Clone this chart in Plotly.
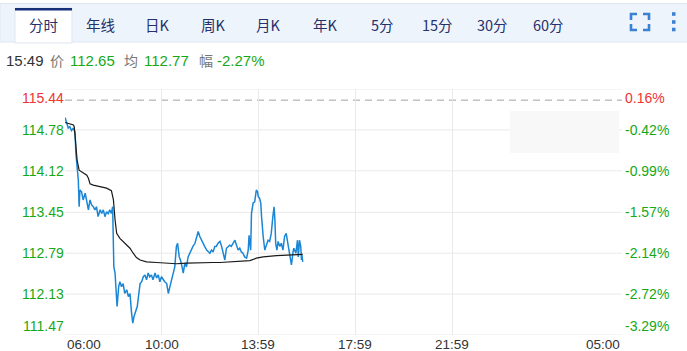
import plotly.graph_objects as go

# ---------------- data ----------------
DAY = "2024-01-02"
NEXT_DAY = "2024-01-03"

price_times = ["06:00","06:08","06:12","06:16","06:21","06:25","06:27","06:30","06:33","06:35",
               "06:37","06:41","06:45","06:50","06:54","06:58","07:02","07:06","07:10","07:14",
               "07:18","07:22","07:27","07:31","07:35","07:39","07:43","07:47","07:51","07:55",
               "07:58","08:00","08:01","08:04","08:06","08:09","08:13","08:16","08:20","08:24",
               "08:28","08:33","08:37","08:41","08:45","08:48","08:51","08:55","08:59","09:03",
               "09:06","09:10","09:14","09:18","09:22","09:26","09:30","09:34","09:38","09:43",
               "09:47","09:51","09:55","09:59","10:03","10:07","10:12","10:16","10:20","10:24",
               "10:28","10:32","10:36","10:39","10:43","10:46","10:50","10:53","10:57","11:01",
               "11:05","11:09","11:13","11:17","11:22","11:26","11:30","11:34","11:38","11:42",
               "11:46","11:51","11:55","11:59","12:03","12:07","12:11","12:15","12:19","12:24",
               "12:28","12:32","12:36","12:40","12:44","12:48","12:52","12:56","13:01","13:05",
               "13:09","13:13","13:17","13:21","13:25","13:30","13:34","13:36","13:38","13:40",
               "13:42","13:46","13:50","13:54","13:57","13:59","14:02","14:05","14:07","14:09",
               "14:11","14:15","14:19","14:23","14:27","14:31","14:35","14:38","14:40","14:42",
               "14:45","14:48","14:52","14:56","15:00","15:04","15:08","15:11","15:15","15:18",
               "15:21","15:25","15:27","15:32","15:36","15:38","15:41","15:44","15:46","15:47",
               "15:49"]
price_values = [114.98,114.81,114.83,114.77,114.81,114.73,114.40,114.11,113.97,113.54,
                113.81,113.78,113.65,113.76,113.60,113.49,113.65,113.57,113.54,113.49,
                113.54,113.38,113.49,113.43,113.49,113.38,113.46,113.43,113.49,113.43,
                113.54,113.11,112.57,112.47,112.30,111.93,112.25,112.33,112.25,112.30,
                112.14,112.20,112.09,112.14,111.82,111.66,111.77,111.87,111.93,112.14,
                112.30,112.33,112.41,112.44,112.36,112.47,112.41,112.44,112.36,112.47,
                112.39,112.44,112.33,112.41,112.36,112.33,112.30,112.14,112.25,112.36,
                112.47,112.57,112.90,112.95,112.73,112.68,112.57,112.47,112.63,112.57,
                112.73,112.79,112.84,112.90,112.95,113.06,113.14,113.06,113.00,112.95,
                112.90,112.84,112.81,112.79,112.84,112.81,112.90,112.90,112.95,112.98,
                112.90,112.79,112.68,112.87,112.90,112.92,112.90,112.95,113.00,112.92,
                112.84,112.87,112.81,112.79,112.73,112.71,112.84,113.08,112.98,112.84,
                113.43,113.60,113.62,113.81,113.78,113.70,113.68,113.60,113.38,113.16,
                113.06,112.84,112.92,113.00,112.98,113.11,113.38,113.54,113.33,112.95,
                112.84,112.98,112.90,112.95,112.84,113.06,113.11,112.98,112.84,112.73,
                112.60,112.81,112.87,112.79,113.00,112.73,113.00,112.90,112.68,112.76,
                112.65]

avg_times = ["06:00","06:21","06:23","06:27","06:30","06:35","06:45","06:54","06:58","07:02",
             "07:10","07:27","07:43","07:55","08:00","08:04","08:08","08:16","08:24","08:33",
             "08:41","08:49","08:57","09:06","09:22","09:47","10:12","10:36","11:01","11:34",
             "12:07","12:24","13:38","13:54","14:11","14:44","15:17","15:49"]
avg_values = [114.90,114.86,114.83,114.46,114.29,114.13,114.09,114.05,114.00,113.91,
              113.89,113.86,113.84,113.80,113.65,113.33,113.11,113.03,112.98,112.92,
              112.87,112.79,112.72,112.68,112.65,112.64,112.63,112.62,112.63,112.64,
              112.64,112.64,112.67,112.71,112.73,112.75,112.76,112.77]

y_ticks = [115.44, 114.78, 114.12, 113.45, 112.79, 112.13, 111.47]
pct_ticks = ["0.16%", "-0.42%", "-0.99%", "-1.57%", "-2.14%", "-2.72%", "-3.29%"]
prev_close = 115.26

x_tick_labels = ["06:00", "10:00", "13:59", "17:59", "21:59", "05:00"]
x_tick_dates = [DAY, DAY, DAY, DAY, DAY, NEXT_DAY]

tabs = ["分时", "年线", "日K", "周K", "月K", "年K", "5分", "15分", "30分", "60分"]
info_time = "15:49"
info_price = "112.65"
info_avg = "112.77"
info_change = "-2.27%"

# ---------------- styling ----------------
W, H = 687, 351
L, R, T, B = 65, 622, 89, 335
RED = "#ee3434"
GREEN = "#17a817"
BLUE = "#1a86d5"
GRID = "#e9e9e9"
NUM_FONT = "Liberation Sans, Arial, Noto Sans CJK SC, sans-serif"
CJK_FONT = "Noto Sans CJK SC, Liberation Sans, sans-serif"


def px(x):
    return (x - L) / (R - L)


def py(y):
    return (B - y) / (B - T)


px_times = [DAY + " " + t for t in price_times]
av_times = [DAY + " " + t for t in avg_times]

fig = go.Figure()
fig.add_trace(go.Scatter(x=px_times, y=price_values, mode="lines",
                         line=dict(color=BLUE, width=1.5), hoverinfo="skip"))
fig.add_trace(go.Scatter(x=av_times, y=avg_values, mode="lines",
                         line=dict(color="#1a1a1a", width=1.2), hoverinfo="skip"))

shapes = []
annotations = []

# header bar
shapes.append(dict(type="rect", xref="paper", yref="paper", x0=px(0), x1=px(W + 2),
                   y0=py(42), y1=py(3.5), fillcolor="#eef4fc",
                   line=dict(color="#dfe6f0", width=1), layer="below"))
# active tab
shapes.append(dict(type="rect", xref="paper", yref="paper", x0=px(15), x1=px(72),
                   y0=py(43), y1=py(8), fillcolor="#ffffff",
                   line=dict(color="#dfe6f0", width=1), layer="below"))
shapes.append(dict(type="rect", xref="paper", yref="paper", x0=px(15), x1=px(72),
                   y0=py(10.5), y1=py(8), fillcolor="#16307a",
                   line=dict(width=0), layer="below"))

tab_centers = [43, 100, 157, 213, 268, 325, 382, 437, 492, 548]
for t, cx in zip(tabs, tab_centers):
    annotations.append(dict(text=t, xref="paper", yref="paper", x=px(cx), y=py(25),
                            xanchor="center", yanchor="middle", showarrow=False,
                            font=dict(family=CJK_FONT, size=14.5, color="#26306a")))

# fullscreen icon (corner brackets)
ICON = "#3a80d4"
a = 6
for (cx, cy, dx, dy) in [(631, 14, 1, 1), (649, 14, -1, 1), (631, 30, 1, -1), (649, 30, -1, -1)]:
    path = "M {},{} L {},{} L {},{}".format(px(cx + dx * a), py(cy), px(cx), py(cy), px(cx), py(cy + dy * a))
    shapes.append(dict(type="path", xref="paper", yref="paper", path=path,
                       line=dict(color=ICON, width=2.6)))
# dots icon
for cy in [14, 22, 29.5]:
    shapes.append(dict(type="rect", xref="paper", yref="paper", x0=px(672), x1=px(675.5),
                       y0=py(cy + 1.8), y1=py(cy - 1.8), fillcolor=ICON, line=dict(width=0)))

# info line
info_items = [(4, info_time, "#333333", NUM_FONT, 15),
              (47.5, "价", "#777777", CJK_FONT, 14),
              (67.5, info_price, GREEN, NUM_FONT, 15),
              (121.5, "均", "#777777", CJK_FONT, 14),
              (142, info_avg, GREEN, NUM_FONT, 15),
              (196.5, "幅", "#777777", CJK_FONT, 14),
              (214.5, info_change, GREEN, NUM_FONT, 15)]
for xl, txt, col, fam, sz in info_items:
    annotations.append(dict(text=txt, xref="paper", yref="paper", x=px(xl), y=py(60.5),
                            xanchor="left", yanchor="middle", showarrow=False,
                            font=dict(family=fam, size=sz, color=col)))

# horizontal grid lines
for v in y_ticks:
    shapes.append(dict(type="line", xref="paper", yref="y", x0=0, x1=1, y0=v, y1=v,
                       line=dict(color=GRID, width=1), layer="below"))
# previous close dashed
shapes.append(dict(type="line", xref="paper", yref="y", x0=0, x1=1, y0=prev_close, y1=prev_close,
                   line=dict(color="#a0a0a0", width=1, dash="7px,5px"), layer="below"))

# blurred box (watermark) – sits over the grid
shapes.append(dict(type="rect", xref="paper", yref="paper", x0=px(510), x1=px(619),
                   y0=py(153), y1=py(111), fillcolor="#f8f8f8", line=dict(width=0),
                   layer="above"))

# y labels
n = len(y_ticks)
for i, (v, p) in enumerate(zip(y_ticks, pct_ticks)):
    col = RED if v > prev_close else GREEN
    if i == 0:
        ya, ys = "top", 1
    elif i == n - 1:
        ya, ys = "bottom", -1
    else:
        ya, ys = "middle", 0
    annotations.append(dict(text=f"{v:.2f}", xref="paper", yref="y", x=0, y=v,
                            xanchor="right", yanchor=ya, yshift=ys, xshift=1, showarrow=False,
                            font=dict(family=NUM_FONT, size=14, color=col)))
    annotations.append(dict(text=p, xref="paper", yref="y", x=1, y=v,
                            xanchor="left", yanchor=ya, yshift=ys, xshift=1, showarrow=False,
                            font=dict(family=NUM_FONT, size=14, color=col)))

# x labels
x_full = [d + " " + t for d, t in zip(x_tick_dates, x_tick_labels)]
for i, (xv, lab) in enumerate(zip(x_full, x_tick_labels)):
    xa = "left" if i == 0 else ("right" if i == len(x_full) - 1 else "center")
    annotations.append(dict(text=lab, xref="x", yref="paper", x=xv, y=0,
                            xanchor=xa, yanchor="top", yshift=0, showarrow=False,
                            font=dict(family=NUM_FONT, size=13.5, color="#333333")))

fig.update_layout(
    width=W, height=H,
    margin=dict(l=L, r=W - R, t=T, b=H - B, pad=0),
    paper_bgcolor="white", plot_bgcolor="white",
    showlegend=False,
    shapes=shapes, annotations=annotations,
    xaxis=dict(type="date", range=[x_full[0], x_full[-1]],
               tickvals=x_full[:-1], showticklabels=False,
               showgrid=True, gridcolor=GRID, gridwidth=1,
               zeroline=False, showline=False, ticks=""),
    yaxis=dict(range=[y_ticks[-1], y_ticks[0]], showticklabels=False,
               showgrid=False, zeroline=False, showline=False, ticks=""),
)

fig.write_html("out.html", config={"displayModeBar": False})
